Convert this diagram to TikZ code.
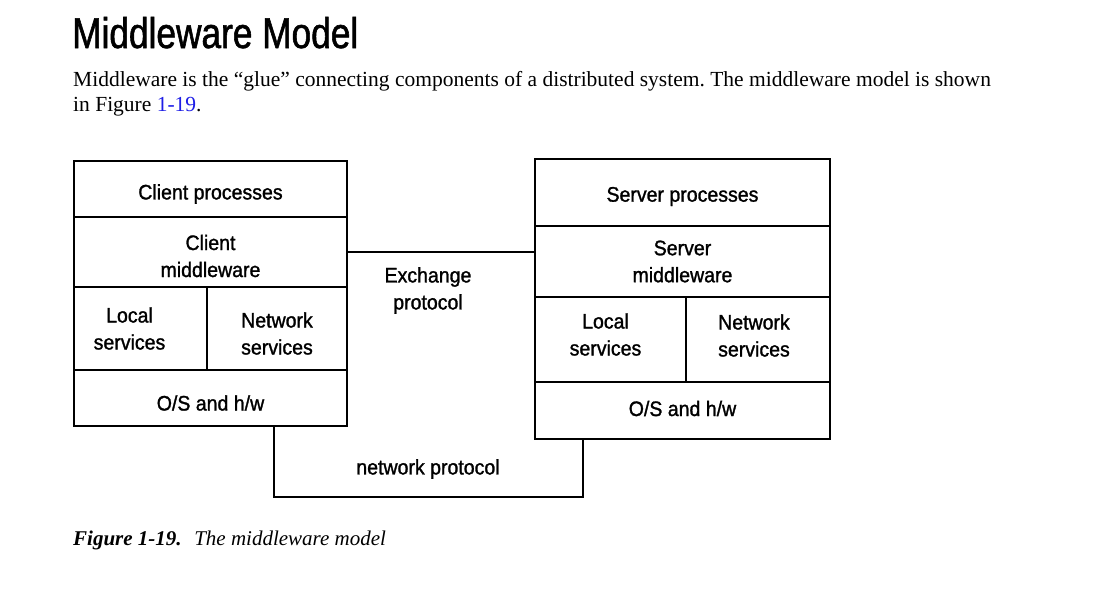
\documentclass[tikz,border=0pt]{standalone}
\usepackage{fontspec}
\setmainfont{Liberation Serif}
\newfontfamily\diagfont[FakeStretch=0.93,FakeBold=1.3]{Liberation Sans}
\newfontfamily\headfont[FakeStretch=0.82,FakeBold=1.3]{Liberation Sans}
\definecolor{linkblue}{RGB}{30,30,230}
\frenchspacing
\begin{document}
\begin{tikzpicture}[x=1pt,y=-1pt,
  cell/.style={draw=black,line width=1.7pt,inner sep=0pt,outer sep=0pt},
  lbl/.style={inner sep=0pt,align=center,text=black,font=\diagfont\fontsize{21}{27}\selectfont},
  wire/.style={draw=black,line width=1.7pt},
  txt/.style={inner sep=0pt,anchor=base west}]
\useasboundingbox (0,0) rectangle (1106,595);
% heading and paragraph
\node[txt,font=\headfont\fontsize{43}{50}\selectfont] (head) at (72,48) {Middleware Model};
\node[txt,font=\fontsize{21.5}{25}\selectfont] (p1) at (73,86) {Middleware is the “glue” connecting components of a distributed system. The middleware model is shown};
\node[txt,font=\fontsize{21.5}{25}\selectfont] (p2) at (73,111) {in Figure \textcolor{linkblue}{1-19}.};
% client stack
\node[cell,minimum width=273,minimum height=56,label={[lbl,yshift=-5pt]center:Client processes}] (cp) at (210.5,189) {};
\node[cell,minimum width=273,minimum height=70,label={[lbl,yshift=-4pt]center:Client\\middleware}] (cm) at (210.5,252) {};
\node[cell,minimum width=133,minimum height=83,label={[lbl,xshift=-11pt]center:Local\\services}] (cls) at (140.5,328.5) {};
\node[cell,minimum width=140,minimum height=83,label={[lbl,yshift=-5pt]center:Network\\services}] (cns) at (277,328.5) {};
\node[cell,minimum width=273,minimum height=56,label={[lbl,yshift=-5pt]center:O/S and h/w}] (cos) at (210.5,398) {};
% server stack
\node[cell,minimum width=295,minimum height=67,label={[lbl,yshift=-4pt]center:Server processes}] (sp) at (682.5,192.5) {};
\node[cell,minimum width=295,minimum height=71,label={[lbl]center:Server\\middleware}] (sm) at (682.5,261.5) {};
\node[cell,minimum width=151,minimum height=85,label={[lbl,xshift=-5pt,yshift=5pt]center:Local\\services}] (sls) at (610.5,339.5) {};
\node[cell,minimum width=144,minimum height=85,label={[lbl,xshift=-4pt,yshift=4pt]center:Network\\services}] (sns) at (758,339.5) {};
\node[cell,minimum width=295,minimum height=57,label={[lbl,yshift=2pt]center:O/S and h/w}] (sos) at (682.5,410.5) {};
% connectors
\draw[wire] (cm.east) -- (cm.east -| sm.west);
\node[lbl] (ex) at (428,290.5) {Exchange\\protocol};
\coordinate (nl) at (274,497);
\coordinate (nr) at (583,497);
\draw[wire] (nl |- cos.south) -- (nl) -- (nr) -- (nr |- sos.south);
\node[lbl] (np) at (428,469) {network protocol};
% caption
\node[txt,font=\fontsize{21}{25}\selectfont] (cap) at (73,545) {\textbf{\textit{Figure 1-19.}}\hspace{0.6em}\textit{The middleware model}};
\end{tikzpicture}
\end{document}
